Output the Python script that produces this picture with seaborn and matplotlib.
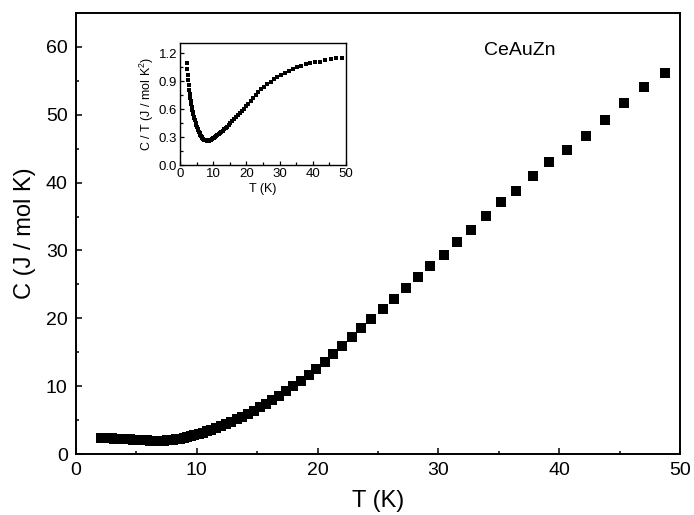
import matplotlib
matplotlib.use("Agg")
import matplotlib.pyplot as plt
from matplotlib.ticker import MultipleLocator
import seaborn as sns
import pandas as pd

# Temperature (K) and specific heat C (J / mol K)
T = [2.1, 2.25, 2.4, 2.55, 2.7, 2.85, 3.0, 3.15, 3.3, 3.45, 3.6, 3.75, 3.9,
     4.05, 4.2, 4.35, 4.5, 4.7, 4.9, 5.1, 5.3, 5.5, 5.7, 5.9, 6.1, 6.3, 6.5,
     6.75, 7.0, 7.25, 7.5, 7.75, 8.0, 8.3, 8.6, 8.9, 9.2, 9.5, 9.8, 10.15,
     10.5, 10.85, 11.2, 11.6, 12.0, 12.4, 12.85, 13.3, 13.75, 14.2, 14.7,
     15.2, 15.7, 16.25, 16.8, 17.4, 18.0, 18.6, 19.25, 19.9, 20.6, 21.3,
     22.05, 22.85, 23.59, 24.42, 25.41, 26.32, 27.32, 28.31, 29.30, 30.46,
     31.54, 32.70, 33.94, 35.18, 36.42, 37.83, 39.16, 40.65, 42.2, 43.8,
     45.4, 47.05, 48.8]
C = [2.31, 2.32, 2.33, 2.32, 2.32, 2.31, 2.30, 2.28, 2.28, 2.26, 2.25, 2.23,
     2.22, 2.21, 2.18, 2.18, 2.16, 2.14, 2.11, 2.09, 2.07, 2.04, 2.02, 2.01,
     1.98, 1.97, 1.96, 1.96, 1.96, 1.98, 2.00, 2.04, 2.09, 2.17, 2.26, 2.38,
     2.50, 2.64, 2.79, 2.97, 3.17, 3.37, 3.60, 3.85, 4.13, 4.41, 4.75, 5.11,
     5.47, 5.86, 6.32, 6.87, 7.38, 7.96, 8.57, 9.26, 10.01, 10.79, 11.65,
     12.54, 13.60, 14.70, 15.88, 17.22, 18.55, 19.89, 21.37, 22.86, 24.49,
     26.12, 27.76, 29.39, 31.32, 32.95, 35.03, 37.11, 38.74, 40.97, 43.05,
     44.83, 46.9, 49.3, 51.8, 54.1, 56.2]

main_xticks = [0, 10, 20, 30, 40, 50]
main_yticks = [0, 10, 20, 30, 40, 50, 60]
inset_xticks = [0, 10, 20, 30, 40, 50]
inset_yticks = [0.0, 0.3, 0.6, 0.9, 1.2]
sample_name = "CeAuZn"

df = pd.DataFrame({"T": T, "C": C})
df["CT"] = df["C"] / df["T"]

sns.set_style("ticks")
plt.rcParams["font.family"] = ["Liberation Sans", "DejaVu Sans"]
plt.rcParams["mathtext.fontset"] = "custom"
plt.rcParams["mathtext.rm"] = "Liberation Sans"
plt.rcParams["axes.edgecolor"] = "black"
plt.rcParams["text.color"] = "black"
plt.rcParams["axes.labelcolor"] = "black"
plt.rcParams["xtick.color"] = "black"
plt.rcParams["ytick.color"] = "black"

fig = plt.figure(figsize=(6.94, 5.15), dpi=100)
ax = fig.add_axes([0.1095, 0.1184, 0.8703, 0.8564])

sns.scatterplot(data=df, x="T", y="C", ax=ax, marker="s", s=58,
                color="black", linewidth=0, legend=False)
ax.set_xlim(0, 50)
ax.set_ylim(0, 65)
ax.set_xticks(main_xticks)
ax.set_yticks(main_yticks)
ax.xaxis.set_minor_locator(MultipleLocator(5))
ax.yaxis.set_minor_locator(MultipleLocator(5))
ax.tick_params(which="both", direction="in", labelsize=14, width=1.1,
               top=False, right=False)
ax.tick_params(which="major", length=4.5, pad=6)
ax.tick_params(which="minor", length=2.5)
for sp in ax.spines.values():
    sp.set_linewidth(1.4)
    sp.set_color("black")
ax.set_xlabel("T (K)", fontsize=17, labelpad=8)
ax.set_ylabel("C (J / mol K)", fontsize=17, labelpad=7)
ax.text(0.735, 0.915, sample_name, transform=ax.transAxes, fontsize=14,
        ha="center", va="center")

ins = fig.add_axes([0.2594, 0.6796, 0.2392, 0.2369])
sns.scatterplot(data=df, x="T", y="CT", ax=ins, marker="s", s=5,
                color="black", linewidth=0, legend=False)
ins.set_xlim(0, 50)
ins.set_ylim(0, 1.31)
ins.set_xticks(inset_xticks)
ins.set_yticks(inset_yticks)
ins.set_yticklabels([f"{v:.1f}" for v in inset_yticks])
ins.xaxis.set_minor_locator(MultipleLocator(5))
ins.yaxis.set_minor_locator(MultipleLocator(0.15))
ins.tick_params(which="both", direction="in", labelsize=9.5, width=0.9,
                top=False, right=False, pad=2)
ins.tick_params(which="major", length=3)
ins.tick_params(which="minor", length=2)
for sp in ins.spines.values():
    sp.set_linewidth(1.0)
    sp.set_color("black")
ins.set_xlabel("T (K)", fontsize=9, labelpad=2)
ins.set_ylabel("C / T (J / mol K$^2$)", fontsize=9, labelpad=2)

fig.savefig("out.png", dpi=100)
